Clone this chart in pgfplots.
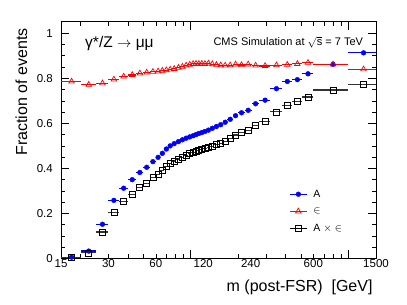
\documentclass[border=0pt]{standalone}
\usepackage{fontspec}
\setmainfont{Liberation Sans}
\usepackage{pgfplots}
\pgfplotsset{compat=1.18}
\usepackage{pgfplotstable}

\pgfplotstableread{
x ex A E AE
17.5 2.5 0.006 0.786 0.005
22.5 2.5 0.033 0.772 0.025
27.5 2.5 0.152 0.778 0.118
32.5 2.5 0.258 0.795 0.204
37.5 2.5 0.312 0.808 0.252
42.5 2.5 0.350 0.815 0.285
47.5 2.5 0.382 0.822 0.314
52.5 2.5 0.405 0.826 0.334
57.5 2.5 0.430 0.829 0.360
62 2 0.449 0.831 0.374
66 2 0.467 0.834 0.391
70 2 0.486 0.836 0.408
74 2 0.500 0.839 0.422
78.5 2.5 0.510 0.842 0.433
83.5 2.5 0.519 0.847 0.442
88.5 2.5 0.527 0.852 0.450
93.5 2.5 0.534 0.857 0.458
98.5 2.5 0.540 0.861 0.465
103.5 2.5 0.545 0.864 0.471
108 2 0.550 0.865 0.475
112.5 2.5 0.555 0.864 0.479
117.5 2.5 0.559 0.865 0.483
123 3 0.564 0.864 0.488
129.5 3.5 0.570 0.866 0.493
137 4 0.578 0.863 0.499
145.5 4.5 0.586 0.860 0.505
155 5 0.594 0.858 0.512
165.5 5.5 0.605 0.857 0.521
178 7 0.618 0.858 0.534
192.5 7.5 0.634 0.862 0.548
210 10 0.647 0.859 0.559
231.5 11.5 0.658 0.862 0.569
258 15 0.687 0.857 0.590
296.5 23.5 0.703 0.855 0.607
350 30 0.754 0.858 0.651
410 30 0.786 0.860 0.680
475 35 0.794 0.864 0.698
555 45 0.820 0.869 0.717
800 200 0.862 0.862 0.748
1250 250 0.913 0.840 0.774
}\datatable

\begin{document}
\begin{tikzpicture}[x=1pt,y=1pt]
\path[use as bounding box] (0,0) rectangle (407,305);
\begin{axis}[name=ax, at={(61pt,46.5pt)}, anchor=south west,
  scale only axis, width=315pt, height=236.5pt,
  xmode=log, xmin=15, xmax=1500, ymin=0, ymax=1.05,
  xtick={100,1000}, xticklabels={,},
  minor xtick={20,30,40,50,60,70,80,90,200,300,400,500,600,700,800,900},
  extra x ticks={15,30,60,120,240,600,1500},
  extra x tick labels={15,30,60,120,240,600,1500},
  extra x tick style={major tick length=0pt},
  ytick={0,0.2,0.4,0.6,0.8,1}, yticklabels={0,0.2,0.4,0.6,0.8,1},
  minor y tick num=3,
  major tick length=8pt, minor tick length=4.5pt,
  tick align=inside,
  /pgf/number format/assume math mode=true,
  ticklabel style={font=\fontsize{11.5}{13}\selectfont},
  yticklabel style={inner sep=0pt, xshift=-8pt},
  xticklabel style={inner sep=0pt, yshift=-1pt},
  axis line style={line width=1pt},
  every tick/.style={black, line width=0.6pt},
  clip=false,
  legend style={at={(rel axis cs:0.724,0.291)}, anchor=north west, draw=none, fill=none,
    font=\fontsize{10.5}{12}\selectfont, inner sep=0pt, row sep=9pt,
    nodes={inner sep=0pt},
    /tikz/every odd column/.append style={column sep=6pt}},
  legend cell align=left,
  legend image code/.code={
    \draw[#1, line width=1.2pt] (0pt,0pt) -- (17pt,0pt);
    \draw[#1] plot coordinates {(8.5pt,0pt)};
  },
]
\addplot[blue, mark=*, mark size=2.4pt, only marks,
  error bars/.cd, x dir=both, x explicit, error mark=none,
  error bar style={line width=1.2pt, blue}]
  table[x=x, y=A, x error=ex] {\datatable};
\addplot[red, mark=triangle, mark size=3.2pt, only marks, mark options={line width=0.7pt},
  error bars/.cd, x dir=both, x explicit, error mark=none,
  error bar style={line width=1.2pt, red}]
  table[x=x, y=E, x error=ex] {\datatable};
\addplot[black, mark=square, mark size=3pt, only marks, mark options={line width=0.7pt, fill=white},
  error bars/.cd, x dir=both, x explicit, error mark=none,
  error bar style={line width=1.2pt, black!80}]
  table[x=x, y=AE, x error=ex] {\datatable};
\legend{A, $\in$, A $\times$ $\in$}
\node[anchor=base west, font=\fontsize{15.5}{18}\selectfont] at (rel axis cs:0.0657,0.891) {γ*/Z $\rightarrow$ μμ};
\node[anchor=base west, font=\fontsize{11}{13}\selectfont] at (rel axis cs:0.473,0.900) {CMS Simulation at $\sqrt{\mbox{s}}$ = 7 TeV};
\end{axis}
\node[rotate=90, anchor=base east, font=\fontsize{16}{19}\selectfont] at ([xshift=-34pt,yshift=-3pt]ax.north west) {Fraction of events};
\node[anchor=base east, font=\fontsize{16}{19}\selectfont] at ([yshift=-33.5pt]ax.south east) {m (post-FSR)\ \ [GeV]};
\end{tikzpicture}
\end{document}
